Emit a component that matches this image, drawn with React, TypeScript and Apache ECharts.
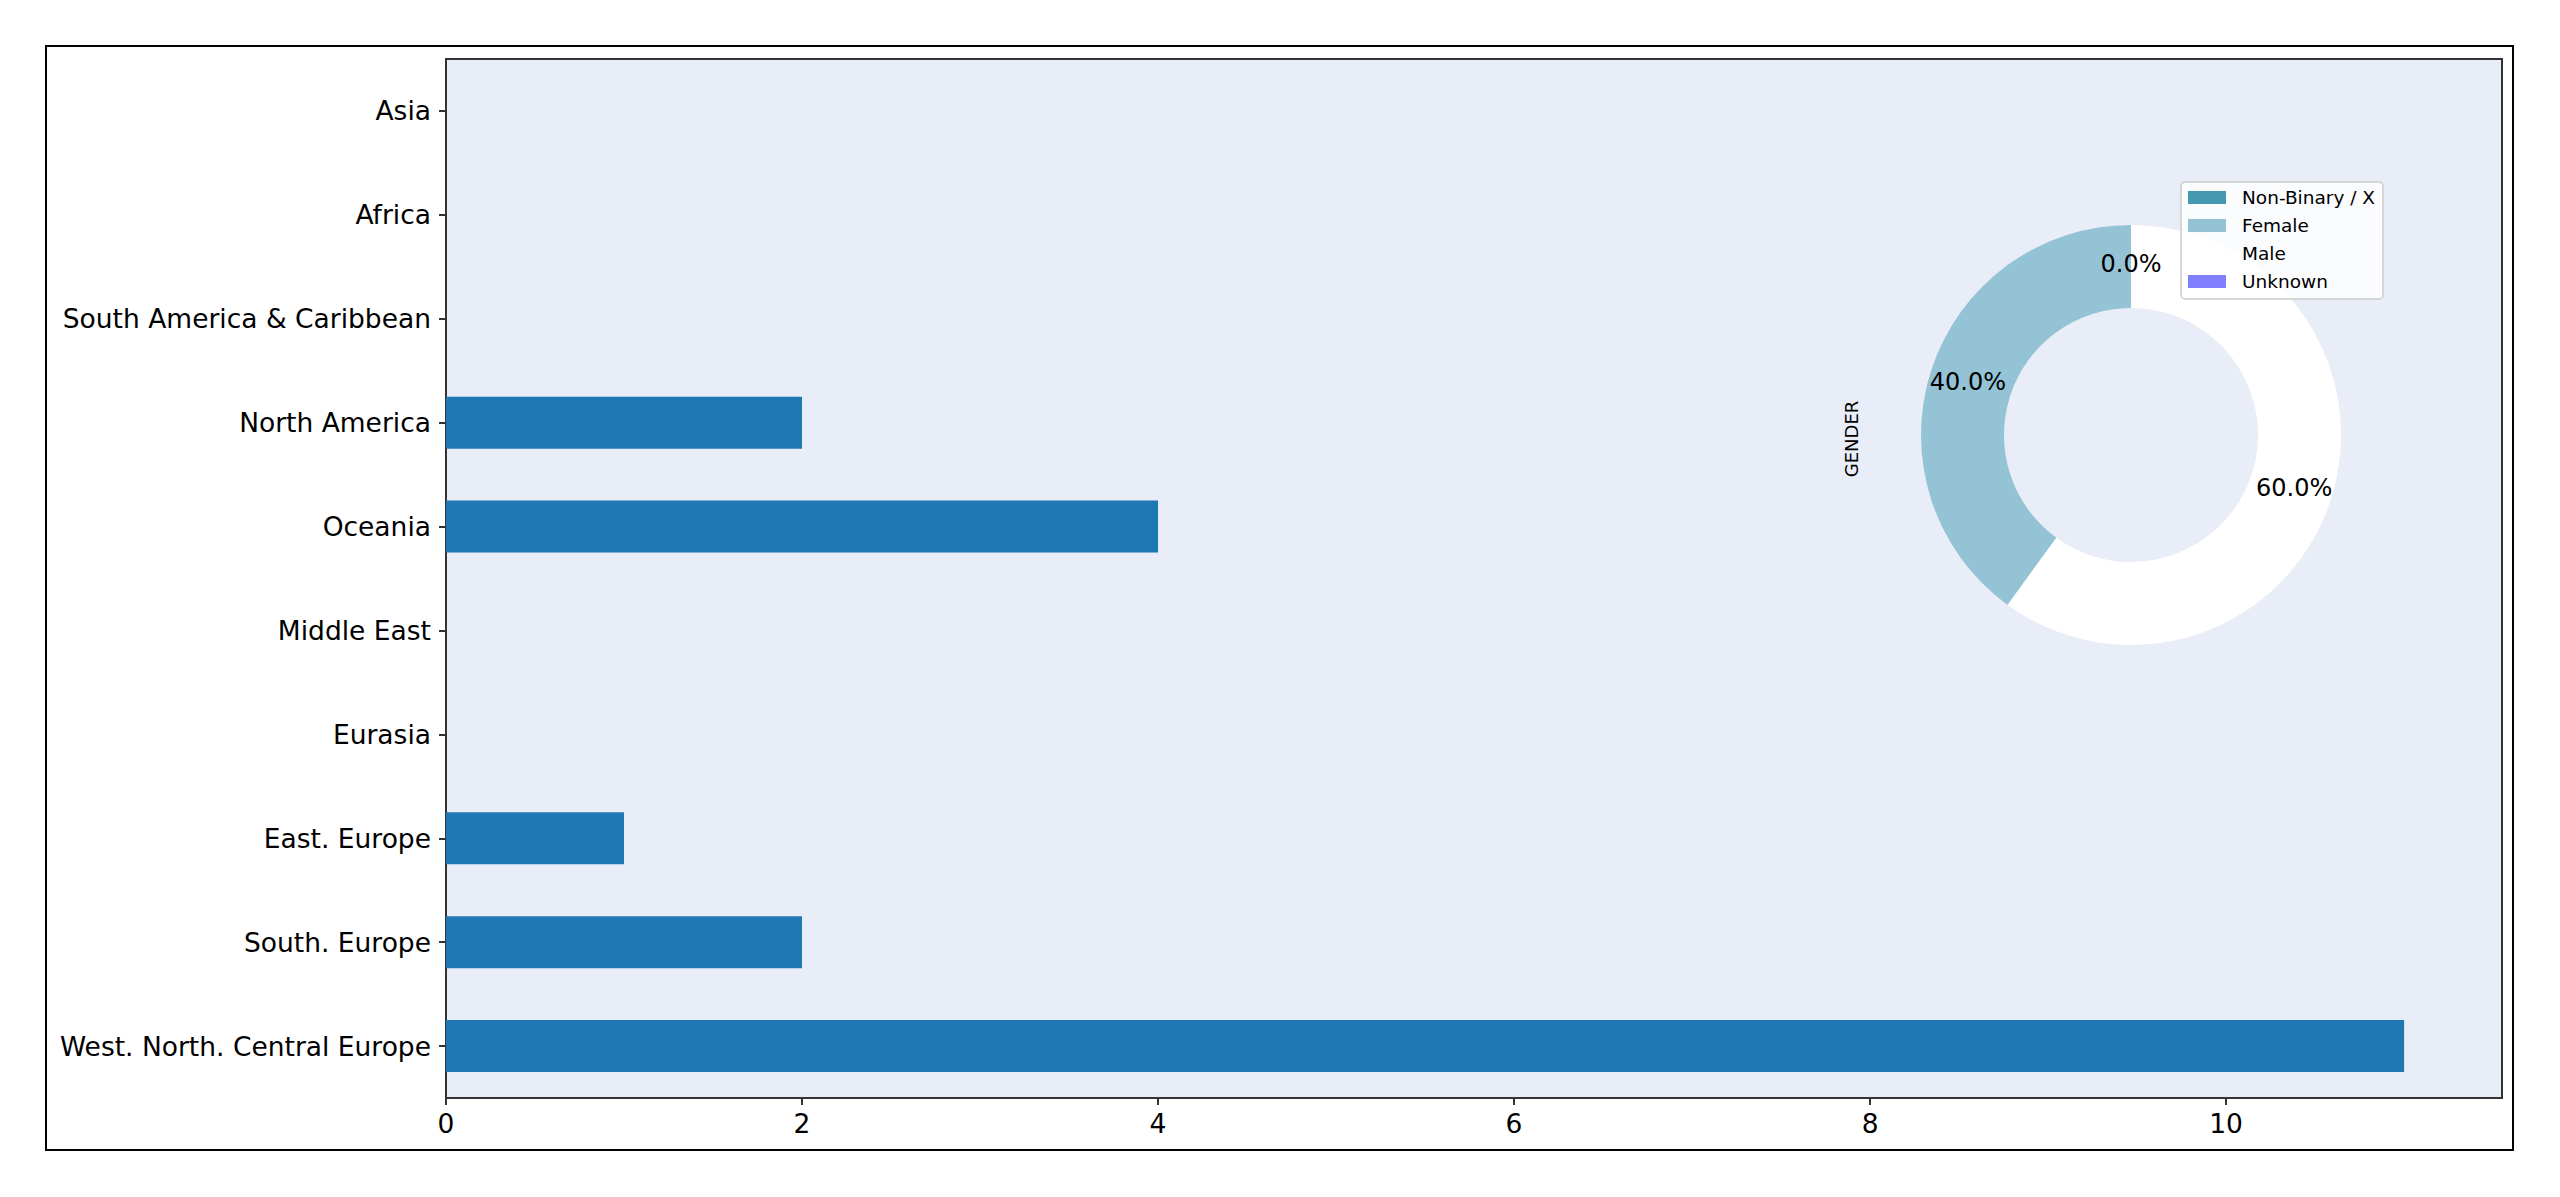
import React, { useEffect, useRef } from "react";
import * as echarts from "echarts";

const regions = [
  "West. North. Central Europe",
  "South. Europe",
  "East. Europe",
  "Eurasia",
  "Middle East",
  "Oceania",
  "North America",
  "South America & Caribbean",
  "Africa",
  "Asia",
];
const regionCounts = [11, 2, 1, 0, 0, 4, 2, 0, 0, 0];
const xTicks = [0, 2, 4, 6, 8, 10];

const genderNames = ["Non-Binary / X", "Female", "Male", "Unknown"];
const genderValues = [0, 8, 12, 0];
const genderColors = ["#4499b0", "#93c3d4", "#ffffff", "#8080ff"];

const FONT = "DejaVu Sans";

export default function App() {
  const ref = useRef<HTMLDivElement>(null);
  useEffect(() => {
    document.body.style.margin = "0";
    const chart = echarts.init(ref.current!, null, { renderer: "svg" });
    const total = genderValues.reduce((a, b) => a + b, 0);
    chart.setOption({
      animation: false,
      backgroundColor: "#ffffff",
      textStyle: { fontFamily: FONT },
      grid: {
        left: 446,
        top: 59,
        width: 2056,
        height: 1039,
        show: true,
        backgroundColor: "#e9edf7",
        borderColor: "#333333",
        borderWidth: 2,
      },
      xAxis: {
        type: "value",
        min: 0,
        max: 11.55,
        interval: 2,
        splitLine: { show: false },
        axisLine: { show: false },
        axisTick: {
          show: true,
          length: 7,
          lineStyle: { color: "#333333", width: 2 },
          customValues: xTicks,
        },
        axisLabel: {
          fontFamily: FONT,
          fontSize: 26.5,
          color: "#000000",
          margin: 12,
          customValues: xTicks,
        },
      },
      yAxis: {
        type: "category",
        data: regions,
        axisLine: { show: false },
        axisTick: {
          show: true,
          alignWithLabel: true,
          length: 7,
          lineStyle: { color: "#333333", width: 2 },
        },
        axisLabel: {
          fontFamily: FONT,
          fontSize: 26.5,
          color: "#000000",
          margin: 15,
        },
        splitLine: { show: false },
      },
      legend: {
        data: genderNames,
        orient: "vertical",
        left: 2181,
        top: 182,
        itemWidth: 38,
        itemHeight: 13,
        itemGap: 9,
        icon: "rect",
        selectedMode: false,
        backgroundColor: "rgba(255,255,255,0.8)",
        borderColor: "#cccccc",
        borderWidth: 1.5,
        borderRadius: 4,
        padding: [6, 8, 8, 7],
        textStyle: {
          fontFamily: FONT,
          fontSize: 18.5,
          lineHeight: 18,
          color: "#000000",
          padding: [0, 0, 0, 11],
        },
      },
      series: [
        {
          type: "bar",
          data: regionCounts,
          barWidth: "50%",
          itemStyle: { color: "#1f77b4" },
          silent: true,
        },
        {
          type: "pie",
          center: [2131, 435],
          radius: [127, 210],
          startAngle: 90,
          clockwise: false,
          silent: true,
          avoidLabelOverlap: false,
          minShowLabelAngle: 0,
          data: genderNames.map((n, i) => ({
            name: n,
            value: genderValues[i],
            itemStyle: { color: genderColors[i] },
          })),
          label: {
            show: true,
            position: "inside",
            fontFamily: FONT,
            fontSize: 24,
            color: "#000000",
            formatter: (p: any) => ((p.value / total) * 100).toFixed(1) + "%",
          },
          labelLine: { show: false },
          emphasis: { disabled: true },
        },
      ],
      graphic: [
        {
          type: "rect",
          shape: { x: 46, y: 46, width: 2467, height: 1104 },
          style: { fill: "none", stroke: "#000000", lineWidth: 2 },
          silent: true,
        },
        {
          type: "text",
          x: 1851,
          y: 439,
          rotation: Math.PI / 2,
          style: {
            text: "GENDER",
            fontFamily: FONT,
            fontSize: 18,
            fill: "#000000",
            align: "center",
            verticalAlign: "middle",
          },
          silent: true,
        },
      ],
    });
    return () => chart.dispose();
  }, []);
  return (
    <div
      ref={ref}
      style={{ position: "fixed", left: 0, top: 0, width: 2560, height: 1197 }}
    />
  );
}
